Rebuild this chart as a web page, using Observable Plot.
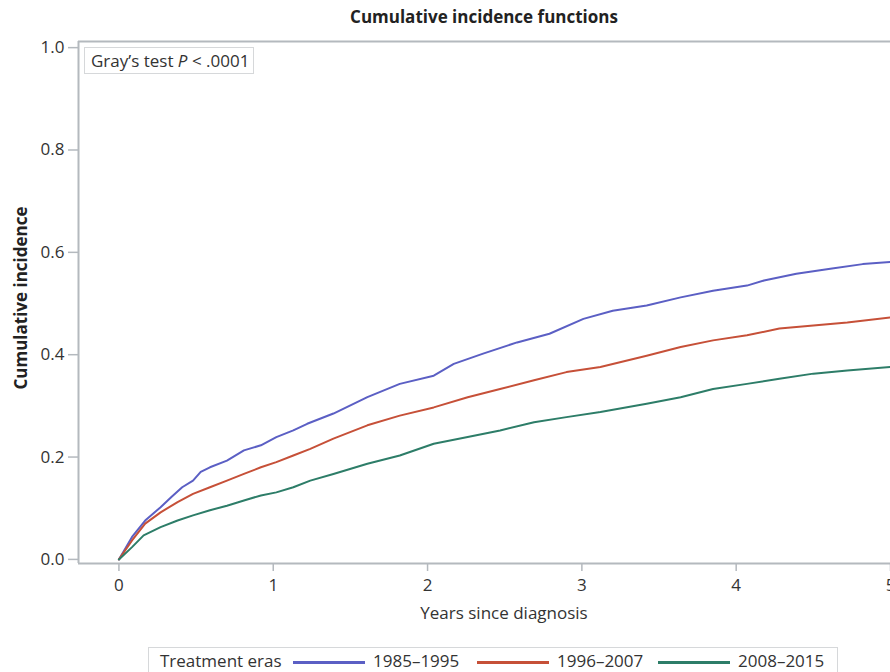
<!DOCTYPE html>
<html>
<head>
<meta charset="utf-8">
<script src="https://cdn.jsdelivr.net/npm/d3@7"></script>
<script src="https://cdn.jsdelivr.net/npm/@observablehq/plot@0.6"></script>
<style>
  html, body { margin: 0; padding: 0; background: #fff; }
  body { width: 890px; height: 672px; overflow: hidden; font-family: "Open Sans", sans-serif; color: #333; }
  #wrap { position: relative; width: 890px; height: 672px; }
  #wrap svg { position: absolute; left: 0; top: 0; }
  .title { position: absolute; top: 5px; left: 0; width: 968px; text-align: center; font-weight: 700; font-size: 17px; color: #222; white-space: nowrap; }
  .ylab { position: absolute; left: 20px; top: 298px; transform: translate(-50%, -50%) rotate(-90deg); font-weight: 700; font-size: 17px; color: #222; white-space: nowrap; }
  .xlab { position: absolute; top: 601px; left: 0; width: 1008px; text-align: center; font-size: 17px; color: #333; white-space: nowrap; }
  .stat { position: absolute; left: 84px; top: 47px; height: 25px; width: 162px; padding: 0 0 0 6px; border: 1.5px solid #d6d8da; font-size: 17px; line-height: 25px; color: #333; white-space: nowrap; background: #fff; }
  .legend { position: absolute; left: 148px; top: 647px; width: 690px; height: 32px; border: 1.5px solid #d6d8da; box-sizing: border-box; font-size: 17px; color: #333; white-space: nowrap; }
  .legend span { position: absolute; top: 1px; }
  .legend i { position: absolute; top: 13px; height: 2.5px; width: 72px; }
</style>
</head>
<body>
<div id="wrap"></div>
<script>
// Treatment eras
const eras = ["1985–1995", "1996–2007", "2008–2015"];
const eraColors = ["#5b5fc4", "#c65038", "#2d7d68"];

// 1985–1995
const t1 = [0, 0.085, 0.17, 0.27, 0.34, 0.41, 0.48, 0.53, 0.59, 0.70, 0.81, 0.92, 1.02, 1.13, 1.22, 1.39, 1.61, 1.82, 2.04, 2.17, 2.36, 2.58, 2.79, 3.01, 3.2, 3.42, 3.64, 3.85, 4.07, 4.18, 4.39, 4.61, 4.82, 5.0];
const v1 = [0, 0.044, 0.076, 0.102, 0.122, 0.141, 0.154, 0.171, 0.18, 0.193, 0.213, 0.223, 0.239, 0.252, 0.265, 0.285, 0.317, 0.343, 0.359, 0.382, 0.402, 0.424, 0.441, 0.470, 0.486, 0.496, 0.512, 0.525, 0.535, 0.545, 0.558, 0.568, 0.577, 0.581];

// 1996–2007
const t2 = [0, 0.085, 0.17, 0.27, 0.38, 0.48, 0.59, 0.70, 0.81, 0.92, 1.02, 1.13, 1.24, 1.39, 1.61, 1.82, 2.04, 2.26, 2.47, 2.69, 2.90, 3.12, 3.2, 3.42, 3.64, 3.85, 4.07, 4.28, 4.5, 4.72, 5.0];
const v2 = [0, 0.037, 0.07, 0.092, 0.112, 0.128, 0.141, 0.154, 0.167, 0.18, 0.19, 0.203, 0.216, 0.236, 0.262, 0.281, 0.297, 0.317, 0.333, 0.35, 0.366, 0.376, 0.382, 0.398, 0.415, 0.428, 0.438, 0.451, 0.457, 0.463, 0.473];

// 2008–2015
const t3 = [0, 0.085, 0.16, 0.27, 0.38, 0.48, 0.59, 0.70, 0.81, 0.92, 1.02, 1.13, 1.24, 1.39, 1.61, 1.82, 2.04, 2.26, 2.47, 2.69, 2.90, 3.12, 3.42, 3.64, 3.85, 4.07, 4.28, 4.5, 4.72, 5.0];
const v3 = [0, 0.024, 0.047, 0.063, 0.076, 0.086, 0.096, 0.105, 0.115, 0.125, 0.131, 0.141, 0.154, 0.167, 0.187, 0.203, 0.226, 0.239, 0.252, 0.268, 0.278, 0.288, 0.304, 0.317, 0.333, 0.343, 0.353, 0.363, 0.369, 0.376];

const xTicks = [0, 1, 2, 3, 4, 5];
const yTicks = [0, 0.2, 0.4, 0.6, 0.8, 1.0];

const series = [[t1, v1], [t2, v2], [t3, v3]];
const rows = series.flatMap(([t, v], i) => t.map((x, j) => ({era: eras[i], t: x, v: v[j]})));

const xDom = [-0.262, 5.0];
const yDom = [-0.008, 1.012];
const frameColor = "#b4b9be";

const chart = Plot.plot({
  width: 890,
  height: 672,
  marginLeft: 78,
  marginRight: 0,
  marginTop: 41,
  marginBottom: 109,
  style: {fontFamily: "'Open Sans', sans-serif", fontSize: "17px", color: "#333", background: "#fff"},
  x: {domain: xDom},
  y: {domain: yDom},
  color: {domain: eras, range: eraColors},
  marks: [
    Plot.ruleY([yDom[1]], {stroke: frameColor, strokeWidth: 2}),
    Plot.ruleY([yDom[0]], {stroke: frameColor, strokeWidth: 2}),
    Plot.ruleX([xDom[0]], {stroke: frameColor, strokeWidth: 2}),
    Plot.axisX({ticks: xTicks, tickFormat: d => String(d), tickSize: 8, tickPadding: 7, stroke: frameColor, strokeWidth: 1.5, label: null, fontSize: 17}),
    Plot.axisY({ticks: yTicks, tickFormat: d => d.toFixed(1), tickSize: 10, tickPadding: 4, stroke: frameColor, strokeWidth: 1.5, label: null, fontSize: 17}),
    Plot.line(rows, {x: "t", y: "v", z: "era", stroke: "era", strokeWidth: 2, curve: "linear"})
  ]
});

const wrap = document.getElementById("wrap");
wrap.appendChild(chart);

function add(cls, html) {
  const d = document.createElement("div");
  d.className = cls;
  d.innerHTML = html;
  wrap.appendChild(d);
  return d;
}
add("title", "Cumulative incidence functions");
add("ylab", "Cumulative incidence");
add("xlab", "Years since diagnosis");
add("stat", "Gray’s test <i>P</i> &lt; .0001");

const leg = add("legend", "");
const legItems = [
  ["span", "Treatment eras", 11],
  ["i", 0, 144], ["span", eras[0], 224],
  ["i", 1, 328], ["span", eras[1], 408],
  ["i", 2, 509], ["span", eras[2], 589]
];
for (const [tag, val, left] of legItems) {
  const e = document.createElement(tag);
  e.style.left = left + "px";
  if (tag === "i") e.style.background = eraColors[val];
  else e.textContent = val;
  leg.appendChild(e);
}
</script>
</body>
</html>
